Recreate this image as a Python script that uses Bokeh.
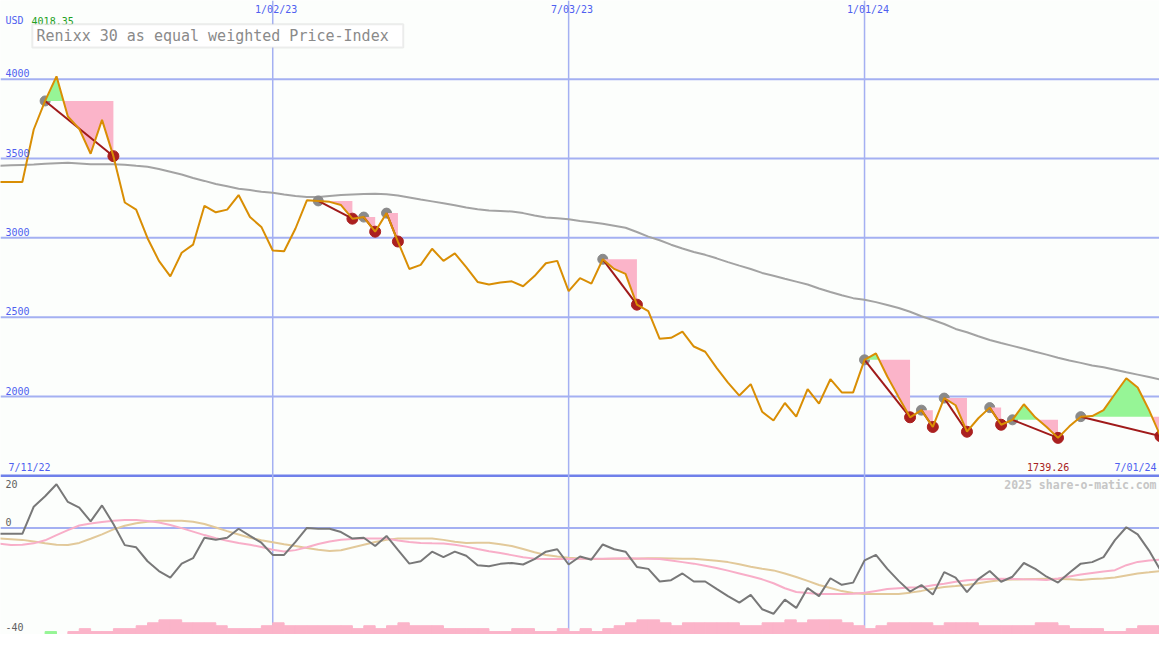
from bokeh.plotting import figure
from bokeh.models import Range1d, Span, Label, BoxAnnotation
from bokeh.embed import file_html
from bokeh.resources import INLINE

# ---------------- data ----------------
title_text = "Renixx 30 as equal weighted Price-Index"
currency = "USD"
date_labels = ["1/02/23", "7/03/23", "1/01/24"]
date_weeks = [25, 51, 77]          # week index since 7/11/22
start_label = "7/11/22"
end_label = "7/01/24"
copyright_text = "2025 share-o-matic.com"

price_ticks = [4000, 3500, 3000, 2500, 2000]
panel_split = 1500
osc_ticks = [20, 0, -40]

# weekly index close
price = [3350, 3352, 3352, 3352, 3683, 3863, 4018.35, 3765, 3687, 3530,
         3744, 3515, 3223, 3178, 2998, 2855, 2757, 2906, 2957, 3202,
         3161, 3178, 3270, 3131, 3069, 2920, 2916, 3059, 3237, 3233,
         3227, 3207, 3121, 3131, 3039, 3156, 2977, 2804, 2830, 2931,
         2855, 2902, 2815, 2722, 2706, 2718, 2726, 2695, 2759, 2840,
         2855, 2664, 2746, 2712, 2865, 2804, 2773, 2579, 2538, 2364,
         2370, 2409, 2315, 2282, 2180, 2088, 2006, 2078, 1904, 1849,
         1959, 1873, 2047, 1955, 2109, 2026, 2026, 2231, 2272, 2126,
         1996, 1869, 1914, 1808, 1990, 1945, 1778, 1863, 1930, 1822,
         1853, 1951, 1869, 1808, 1739.26, 1812, 1873, 1877, 1914, 2016,
         2115, 2057, 1914, 1750]

# long moving average
ma = [3451, 3454, 3457, 3460, 3463, 3467, 3471, 3474, 3469, 3464,
      3464, 3464, 3461, 3454, 3448, 3434, 3417, 3399, 3377, 3359,
      3340, 3325, 3310, 3301, 3291, 3284, 3273, 3264, 3258, 3258,
      3264, 3270, 3274, 3277, 3278, 3275, 3267, 3255, 3242, 3230,
      3218, 3206, 3192, 3181, 3172, 3169, 3166, 3156, 3141, 3129,
      3123, 3117, 3107, 3098, 3089, 3077, 3064, 3037, 3008, 2985,
      2957, 2933, 2911, 2893, 2871, 2847, 2825, 2804, 2779, 2761,
      2742, 2724, 2706, 2681, 2659, 2638, 2620, 2610, 2595, 2577,
      2558, 2534, 2506, 2482, 2457, 2426, 2405, 2380, 2356, 2337,
      2319, 2301, 2282, 2264, 2244, 2227, 2212, 2196, 2184, 2169,
      2153, 2138, 2123, 2107]

# signals: entry (grey) and exit (red) week indices
entry_weeks = [5, 29, 33, 35, 54, 77, 82, 84, 88, 90, 96]
exit_weeks = [11, 32, 34, 36, 57, 81, 83, 86, 89, 94, 103]

# lower panel oscillator lines
osc = [-2.7, -2.7, -2.7, -2.7, 9.7, 14.5, 20.0, 11.9, 9.3, 3.0,
       10.3, 1.8, -7.9, -8.9, -15.3, -19.8, -22.8, -16.4, -13.9, -4.5,
       -5.4, -4.5, -0.4, -3.7, -6.8, -12.4, -12.4, -6.4, 0.0, -0.4,
       -0.4, -1.9, -4.9, -4.5, -8.3, -3.7, -10.1, -16.4, -15.3, -10.9,
       -13.4, -10.9, -12.8, -17.1, -17.6, -16.5, -16.1, -16.8, -14.3, -10.9,
       -9.8, -16.8, -13.1, -14.6, -7.6, -9.8, -10.9, -17.9, -18.8, -24.6,
       -24.0, -20.9, -24.6, -24.6, -28.0, -31.3, -34.3, -30.7, -37.3, -39.4,
       -32.9, -36.7, -27.6, -31.3, -23.1, -26.1, -25.1, -14.9, -12.4, -18.8,
       -24.3, -29.2, -26.2, -30.6, -20.3, -22.8, -29.5, -23.5, -19.8, -24.7,
       -22.4, -16.1, -18.8, -22.4, -25.1, -20.6, -16.4, -15.7, -13.4, -5.6,
       0.3, -3.0, -10.4, -19.4]

osc_pink = [-6.9, -7.3, -7.9, -7.7, -7.1, -5.7, -3.3, -1.0, 1.1, 2.0,
            2.7, 3.3, 3.6, 3.6, 3.2, 2.5, 1.3, -0.1, -1.7, -3.3,
            -4.7, -5.9, -6.9, -7.7, -8.8, -10.0, -10.8, -10.2, -8.9, -7.4,
            -6.2, -5.4, -5.1, -4.9, -4.9, -4.9, -5.8, -6.5, -6.9, -7.1,
            -7.2, -7.7, -8.6, -9.7, -10.7, -11.5, -12.5, -13.5, -14.1, -14.3,
            -14.3, -14.3, -14.2, -14.1, -14.1, -14.0, -13.9, -14.0, -14.1, -14.3,
            -15.0, -15.7, -16.4, -17.4, -18.4, -19.6, -20.9, -22.2, -23.6, -25.4,
            -27.7, -29.4, -29.9, -30.3, -30.3, -30.3, -30.2, -29.8, -28.9, -28.0,
            -27.7, -27.4, -27.2, -26.3, -25.6, -24.7, -24.0, -23.7, -23.5, -23.3,
            -23.4, -23.6, -23.7, -23.9, -23.2, -22.3, -21.4, -20.7, -20.0, -19.4,
            -17.1, -15.6, -15.0, -14.6]

osc_tan = [-4.8, -4.9, -5.2, -5.5, -6.2, -7.0, -7.7, -7.8, -6.9, -5.0,
           -3.0, -0.7, 1.0, 2.1, 2.8, 3.3, 3.3, 3.3, 2.8, 1.8,
           0.2, -1.5, -3.0, -4.5, -5.7, -6.6, -7.5, -8.3, -9.2, -10.0,
           -10.6, -10.3, -9.0, -7.7, -6.5, -5.5, -4.9, -4.9, -4.9, -4.9,
           -5.5, -6.4, -6.9, -6.8, -6.8, -7.5, -8.3, -9.7, -11.2, -12.4,
           -13.1, -13.7, -14.0, -14.3, -14.3, -14.2, -14.1, -14.1, -13.9, -13.9,
           -14.0, -14.1, -14.2, -14.6, -15.1, -15.7, -16.7, -17.8, -18.7, -19.5,
           -20.9, -22.5, -24.3, -26.2, -27.6, -29.0, -29.9, -30.3, -30.3, -30.3,
           -30.3, -29.7, -28.9, -27.9, -27.1, -26.7, -26.2, -25.4, -24.6, -23.9,
           -23.7, -23.6, -23.4, -23.3, -23.4, -23.6, -23.9, -23.5, -23.2, -22.8,
           -21.8, -20.9, -20.4, -19.8]

# weekly histogram levels (negative = green)
hist = [0, 0, 0, 0, 0, -1, 0, 1, 2, 1,
        1, 2, 2, 3, 4, 5, 5, 4, 4, 4,
        3, 2, 2, 2, 3, 4, 3, 3, 3, 3,
        3, 3, 2, 3, 2, 3, 4, 3, 3, 3,
        2, 2, 2, 2, 1, 1, 2, 2, 1, 1,
        2, 1, 2, 1, 2, 3, 4, 5, 5, 4,
        3, 4, 4, 4, 4, 4, 3, 3, 4, 4,
        5, 4, 5, 5, 5, 4, 3, 2, 3, 4,
        4, 4, 4, 3, 4, 4, 4, 3, 3, 3,
        3, 3, 4, 4, 3, 2, 2, 2, 1, 1,
        2, 3, 3]

# ---------------- geometry of the reference picture ----------------
REF_W, REF_H = 1175, 650
W, H = 1159, 634
WEEK0_PX, WEEK_PX = -12.46, 11.538
P_REF, P_REF_PX, PX_PER_PRICE = 4000, 80.7, 0.16265
OSC0_PX, PX_PER_OSC = 540.7, 2.235
PX_PER_LEVEL = 3.0


def wx(X):
    return (X - WEEK0_PX) / WEEK_PX


def py(Y):
    return P_REF - (Y - P_REF_PX) / PX_PER_PRICE


def oy(Y):
    return (OSC0_PX - Y) / PX_PER_OSC


BG = "#fcfefc"
GRID = "#a4b0f2"
SEP = "#6f80ea"
BLUE_TXT = "#4f5ff0"
ORANGE = "#d98e04"
MA_COL = "#a3a3a3"
PINK = "#fbb4c9"
GREEN = "#96f596"
DARKRED = "#a01a1a"
REDDOT = "#aa2020"
GREYDOT = "#8a8a8a"
FONT = "DejaVu Sans Mono"

weeks = list(range(len(price)))

p = figure(width=W, height=H,
           x_range=Range1d(wx(0), wx(REF_W)),
           y_range=Range1d(py(REF_H), py(0)),
           output_backend="svg", toolbar_location=None, min_border=0,
           x_axis_location=None, y_axis_location=None,
           background_fill_color=BG, border_fill_color=BG,
           outline_line_color=None)
p.extra_y_ranges = {"osc": Range1d(oy(REF_H), oy(0)),
                    "hist": Range1d(0, REF_H / PX_PER_LEVEL)}
p.grid.visible = False

# grid lines
for lv in price_ticks:
    p.add_layout(Span(location=lv, dimension="width", line_color=GRID,
                      line_width=2, level="underlay"))
p.add_layout(Span(location=panel_split, dimension="width", line_color=SEP,
                  line_width=2.5, level="underlay"))
p.add_layout(Span(location=0, dimension="width", y_range_name="osc",
                  line_color=GRID, line_width=2, level="underlay"))
for w in date_weeks:
    p.add_layout(Span(location=w, dimension="height", line_color=GRID,
                      line_width=1.5, level="underlay"))

# histogram
hx_p = [j + 0.5 for j, v in enumerate(hist) if v > 0]
ht_p = [v for v in hist if v > 0]
hx_g = [j + 0.5 for j, v in enumerate(hist) if v < 0]
ht_g = [-v for v in hist if v < 0]
p.vbar(x=hx_p, top=ht_p, bottom=0, width=1.0, color=PINK, y_range_name="hist")
p.vbar(x=hx_g, top=ht_g, bottom=0, width=1.0, color=GREEN, y_range_name="hist")

# oscillator lines
p.line(weeks, osc_tan, line_color="#e2c99a", line_width=2, y_range_name="osc")
p.line(weeks, osc_pink, line_color="#f8aec8", line_width=2, y_range_name="osc")
p.line(weeks, osc, line_color="#787878", line_width=2, y_range_name="osc")

# moving average
p.line(weeks, ma, line_color=MA_COL, line_width=2)

# entry markers (under the fills)
p.scatter([weeks[g] for g in entry_weeks], [price[g] for g in entry_weeks],
          size=10, color=GREYDOT)

# fills between entry level and price
for g, r in zip(entry_weeks, exit_weeks):
    lvl = price[g]
    xs, ys = [g], [price[g]]
    for i in range(g, r):
        a, b = price[i] - lvl, price[i + 1] - lvl
        if a * b < 0:
            t = a / (a - b)
            xs.append(i + t)
            ys.append(lvl)
        xs.append(i + 1)
        ys.append(price[i + 1])
    p.varea(x=xs, y1=[lvl] * len(xs), y2=[min(v, lvl) for v in ys],
            fill_color=PINK)
    p.varea(x=xs, y1=[lvl] * len(xs), y2=[max(v, lvl) for v in ys],
            fill_color=GREEN)

# exit markers
p.scatter([weeks[r] for r in exit_weeks], [price[r] for r in exit_weeks],
          size=11, color=REDDOT)

# connecting lines entry -> exit
p.multi_line([[g, r] for g, r in zip(entry_weeks, exit_weeks)],
             [[price[g], price[r]] for g, r in zip(entry_weeks, exit_weeks)],
             line_color=DARKRED, line_width=2)

# price line
p.line(weeks, price, line_color=ORANGE, line_width=2)

# ---------------- texts ----------------
def lab(x, y, text, color, size="10px", align="left", rng="default",
        style="normal", baseline="middle"):
    p.add_layout(Label(x=x, y=y, text=text, text_color=color,
                       text_font=FONT, text_font_size=size,
                       text_align=align, text_baseline=baseline,
                       text_font_style=style, y_range_name=rng))


lab(wx(5), py(21), currency, BLUE_TXT)
lab(wx(31.5), py(21), f"{max(price):.2f}", "#22a022")

p.add_layout(BoxAnnotation(left=wx(32.3), right=wx(408.3),
                           top=py(24.3), bottom=py(48.3),
                           fill_color="#ffffff", fill_alpha=1.0,
                           line_color="#c2c2c2", line_width=2))
lab(wx(36.5), py(36.8), title_text, "#8a8a8a", size="15px")

for lv in price_ticks:
    lab(wx(5), lv + 2.0 / PX_PER_PRICE, str(lv), BLUE_TXT, baseline="bottom")

for w, t in zip(date_weeks, date_labels):
    lab(w + 0.3, py(9.5), t, BLUE_TXT, align="center")

lab(wx(8), py(478.5), start_label, BLUE_TXT)
lab(wx(1172), py(478.5), end_label, BLUE_TXT, align="right")
lab(wx(1083.5), py(478.5), f"{min(price):.2f}", "#a82222", align="right")
lab(wx(1172), py(496.5), copyright_text, "#c6c6c6", size="11.5px",
    align="right", style="bold")

osc_label_rows = [495.5, 534.5, 642]
for v, Y in zip(osc_ticks, osc_label_rows):
    lab(wx(5), oy(Y), str(v), "#606060", rng="osc")

open("out.html", "w").write(file_html(p, INLINE))
